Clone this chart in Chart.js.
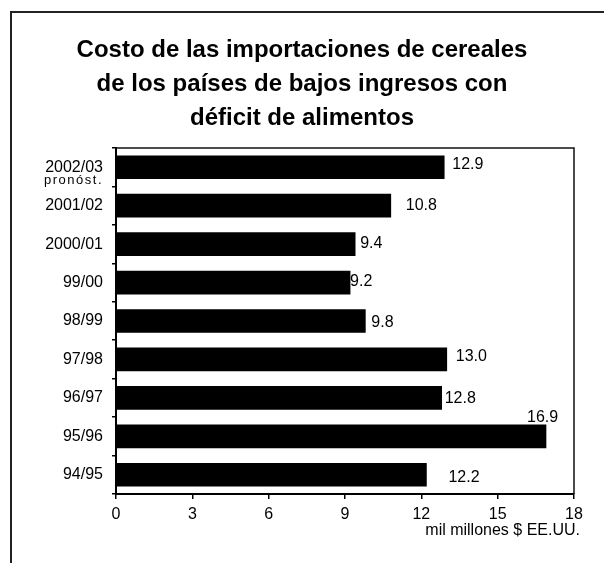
<!DOCTYPE html>
<html>
<head>
<meta charset="utf-8">
<script src="https://cdn.jsdelivr.net/npm/chart.js@4.4.0/dist/chart.umd.min.js"></script>
<style>
  html, body { margin: 0; padding: 0; background: #fff; }
  .wrap { position: relative; width: 604px; height: 563px; overflow: hidden; }
  .frame {
    position: absolute; left: 10px; top: 11px; width: 620px; height: 600px;
    border-left: 2px solid #222; border-top: 2px solid #222;
  }
  canvas { position: absolute; left: 0; top: 0; }
</style>
</head>
<body>
<div class="wrap">
  <div class="frame"></div>
  <canvas id="cerealChart" width="604" height="563"></canvas>
</div>
<script>
// campañas, de la más antigua a la más reciente
const campanas = ["94/95", "95/96", "96/97", "97/98", "98/99", "99/00", "2000/01", "2001/02", "2002/03"];
const costo = [12.2, 16.9, 12.8, 13.0, 9.8, 9.2, 9.4, 10.8, 12.9];
const ticksX = [0, 3, 6, 9, 12, 15, 18];
const titulo = [
  "Costo de las importaciones de cereales",
  "de los países de bajos ingresos con",
  "déficit de alimentos"
];

// pequeños desplazamientos de las etiquetas (como en el original)
const etiquetaDx = [22, -19, 3, 9, 6, 0, 5, 15, 8];
const etiquetaDy = [3, -19, 1, -3, 2, -1, -1, 0, -3];

const FONT = "'Liberation Sans', Arial, sans-serif";

const extras = {
  id: "extras",
  afterDraw(chart) {
    const ctx = chart.ctx;
    const a = chart.chartArea;
    ctx.save();

    // título (centrado en el recuadro)
    ctx.fillStyle = "#000";
    ctx.font = "bold 24px " + FONT;
    ctx.textAlign = "center";
    ctx.textBaseline = "middle";
    titulo.forEach((linea, i) => ctx.fillText(linea, 302, 50 + i * 34));

    // borde superior y derecho del área del gráfico
    ctx.strokeStyle = "#111";
    ctx.lineWidth = 1.5;
    ctx.beginPath();
    ctx.moveTo(a.left, a.top);
    ctx.lineTo(a.right, a.top);
    ctx.lineTo(a.right, a.bottom);
    ctx.stroke();

    // valores
    ctx.font = "16px " + FONT;
    ctx.textAlign = "left";
    const meta = chart.getDatasetMeta(0);
    meta.data.forEach((bar, i) => {
      ctx.fillText(costo[i].toFixed(1), bar.x + etiquetaDx[i], bar.y + etiquetaDy[i]);
    });

    // "pronóst." bajo la última campaña
    const yS = chart.scales.y;
    const yLast = yS.getPixelForValue(campanas.length - 1);
    ctx.font = "13px " + FONT;
    ctx.textAlign = "right";
    if ("letterSpacing" in ctx) ctx.letterSpacing = "1.5px";
    ctx.fillText("pronóst.", a.left - 13, yLast + 13);
    if ("letterSpacing" in ctx) ctx.letterSpacing = "0px";

    // unidad
    ctx.font = "16px " + FONT;
    ctx.textAlign = "right";
    ctx.fillText("mil millones $ EE.UU.", a.right + 6, a.bottom + 37);
    ctx.restore();
  }
};

new Chart(document.getElementById("cerealChart").getContext("2d"), {
  type: "bar",
  data: {
    labels: campanas,
    datasets: [{
      data: costo,
      backgroundColor: "#000",
      borderWidth: 0,
      barThickness: 23
    }]
  },
  options: {
    indexAxis: "y",
    responsive: false,
    animation: false,
    layout: { padding: { left: 0, top: 148, right: 30, bottom: 0 } },
    plugins: {
      legend: { display: false },
      tooltip: { enabled: false },
      title: { display: false }
    },
    scales: {
      x: {
        min: 0,
        max: 18,
        afterBuildTicks(scale) { scale.ticks = ticksX.map(v => ({ value: v })); },
        afterFit(scale) { scale.height = 69; },
        grid: { drawOnChartArea: false, drawTicks: true, tickLength: 5, color: "#000", lineWidth: 1.5 },
        border: { display: true, color: "#000", width: 2 },
        ticks: { color: "#000", font: { family: FONT, size: 16 }, padding: 6, maxRotation: 0 }
      },
      y: {
        reverse: true,
        afterFit(scale) { scale.width = 116; },
        grid: { offset: true, drawOnChartArea: false, drawTicks: true, tickLength: 4, color: "#000", lineWidth: 1.5 },
        border: { display: true, color: "#000", width: 2 },
        ticks: { color: "#000", font: { family: FONT, size: 16 }, padding: 9 }
      }
    }
  },
  plugins: [extras]
});
</script>
</body>
</html>
